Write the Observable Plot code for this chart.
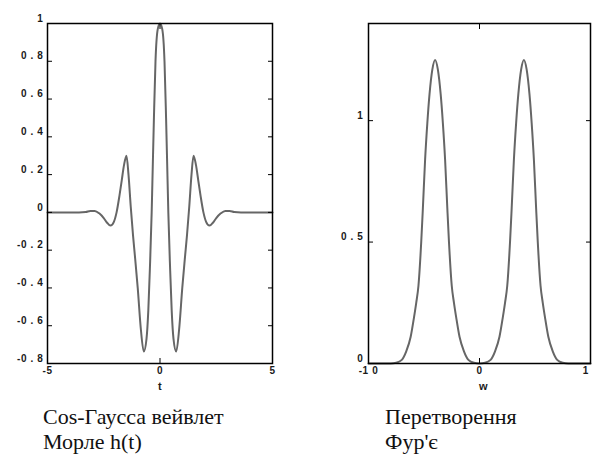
<!DOCTYPE html>
<html><head><meta charset="utf-8">
<script src="https://cdn.jsdelivr.net/npm/d3@7"></script>
<script src="https://cdn.jsdelivr.net/npm/@observablehq/plot@0.6"></script>
<style>
html,body{margin:0;padding:0;background:#fff}
body{width:592px;height:463px;overflow:hidden;position:relative}
#left{position:absolute;left:0;top:0}
#right{position:absolute;left:296px;top:0}
.cap{position:absolute;top:404px;font-size:22px;line-height:25px;color:#111;white-space:nowrap}
</style></head><body>
<div id="left"></div><div id="right"></div>
<div class="cap" id="capL" style="left:43px;font-family:'Liberation Serif',serif"></div>
<div class="cap" id="capR" style="left:385px;font-family:'Liberation Serif',serif"></div>
<script>
// Left panel: Cos-Gauss (Morlet) wavelet h(t)
const tL = [-5, -4.2, -3.6, -3.3, -3.1, -2.9, -2.7, -2.5, -2.35, -2.2, -2.05, -1.93, -1.8, -1.7, -1.6, -1.49, -1.4, -1.3, -1.2, -1.1, -0.99, -0.85, -0.72, -0.6, -0.52, -0.45, -0.37, -0.34, -0.27, -0.2, -0.1, 0,
            0.1, 0.2, 0.27, 0.34, 0.37, 0.45, 0.52, 0.6, 0.72, 0.85, 0.99, 1.1, 1.2, 1.3, 1.4, 1.49, 1.6, 1.7, 1.8, 1.93, 2.05, 2.2, 2.35, 2.5, 2.7, 2.9, 3.1, 3.3, 3.6, 4.2, 5];
const hL = [0, 0, 0, 0.002, 0.008, 0.008, -0.005, -0.03, -0.055, -0.07, -0.05, 0, 0.09, 0.17, 0.25, 0.30, 0.2, 0.03, -0.12, -0.25, -0.4, -0.62, -0.737, -0.67, -0.52, -0.3, 0, 0.15, 0.5, 0.8, 0.97, 1.0,
            0.97, 0.8, 0.5, 0.15, 0, -0.3, -0.52, -0.67, -0.737, -0.62, -0.4, -0.25, -0.12, 0.03, 0.2, 0.30, 0.25, 0.17, 0.09, 0, -0.05, -0.07, -0.055, -0.03, -0.005, 0.008, 0.008, 0.002, 0, 0, 0];
const xTicksL = [-5, 0, 5];
const xTickLabelsL = ["-5", "0", "5"];
const yTicksL = [1, 0.8, 0.6, 0.4, 0.2, 0, -0.2, -0.4, -0.6, -0.8];
const yTickLabelsL = ["1", "0 . 8", "0 . 6", "0 . 4", "0 . 2", "0", "-0 . 2", "-0 . 4", "-0 . 6", "-0 . 8"];
const xLabelL = "t";
const captionL = ["Cos-Гаусса вейвлет", "Морле h(t)"];

// Right panel: Fourier transform
const wR = [-10, -8, -7.5, -7, -6.6, -6.2, -5.9, -5.7, -5.5, -5.25, -5.1, -4.9, -4.7, -4.5, -4.25, -4, -3.75, -3.5, -3.3, -3.1, -2.9, -2.75, -2.5, -2.3, -2.1, -1.8, -1.4, -1, -0.5, 0,
            0.5, 1, 1.4, 1.8, 2.1, 2.3, 2.5, 2.75, 2.9, 3.1, 3.3, 3.5, 3.75, 4, 4.25, 4.5, 4.7, 4.9, 5.1, 5.25, 5.5, 5.7, 5.9, 6.2, 6.6, 7, 7.5, 8, 10];
const FR = [0, 0, 0.003, 0.015, 0.05, 0.11, 0.19, 0.25, 0.32, 0.5, 0.64, 0.84, 0.99, 1.11, 1.21, 1.25, 1.21, 1.11, 0.99, 0.84, 0.64, 0.5, 0.32, 0.25, 0.19, 0.11, 0.05, 0.015, 0.003, 0,
            0.003, 0.015, 0.05, 0.11, 0.19, 0.25, 0.32, 0.5, 0.64, 0.84, 0.99, 1.11, 1.21, 1.25, 1.21, 1.11, 0.99, 0.84, 0.64, 0.5, 0.32, 0.25, 0.19, 0.11, 0.05, 0.015, 0.003, 0, 0];
const xTicksR = [-10, 0, 10];
const xTickLabelsR = ["-1 0", "0", "1 0"];
const yTicksR = [0, 0.5, 1];
const yTickLabelsR = ["0", "0 . 5", "1"];
const xLabelR = "w";
const captionR = ["Перетворення", "Фур'є"];

const lineColor = "#666666";
const baseStyle = {fontFamily: "'Liberation Sans', Arial, sans-serif", fontSize: "10px", fontWeight: "bold", letterSpacing: "0.6px", overflow: "visible", background: "white", color: "#1a1a1a"};

function panel({xs, ys, xDomain, yDomain, xTicks, xTickLabels, yTicks, yTickLabels, xLabel, marginLeft, marginRight, labelPad, labelDx}) {
  const xFmt = new Map(xTicks.map((d, i) => [d, xTickLabels[i]]));
  const yFmt = new Map(yTicks.map((d, i) => [d, yTickLabels[i]]));
  const data = xs.map((x, i) => ({x, y: ys[i]}));
  return Plot.plot({
    width: 296, height: 400,
    marginLeft, marginRight, marginTop: 23, marginBottom: 37,
    style: baseStyle,
    x: {domain: xDomain},
    y: {domain: yDomain},
    marks: [
      Plot.line(data, {x: "x", y: "y", stroke: lineColor, strokeWidth: 2, curve: "monotone-x"}),
      Plot.frame({stroke: "#000", strokeWidth: 1.5}),
      Plot.axisY({ticks: yTicks, anchor: "left", tickSize: 5, dx: 5, fill: "none", label: null, stroke: "#000"}),
      Plot.axisY({ticks: yTicks, anchor: "right", tickSize: 5, dx: -5, fill: "none", label: null, stroke: "#000"}),
      Plot.axisY({ticks: yTicks, anchor: "left", tickSize: 0, tickPadding: labelPad, dy: -5, tickFormat: d => yFmt.get(d), label: null}),
      Plot.axisX({ticks: xTicks, anchor: "bottom", tickSize: 5, dy: -5, fill: "none", label: null, stroke: "#000"}),
      Plot.axisX({ticks: xTicks, anchor: "top", tickSize: 5, dy: 5, fill: "none", label: null, stroke: "#000"}),
      Plot.axisX({ticks: xTicks, anchor: "bottom", tickSize: 0, tickPadding: 3, tickFormat: d => xFmt.get(d), label: null}),
      Plot.text([xLabel], {frameAnchor: "bottom", lineAnchor: "middle", dy: 23, dx: labelDx, fontSize: 11, fontWeight: "bold", fill: "#1a1a1a"})
    ]
  });
}

document.getElementById("left").append(panel({
  xs: tL, ys: hL, xDomain: [-5, 5], yDomain: [-0.8, 1],
  xTicks: xTicksL, xTickLabels: xTickLabelsL, yTicks: yTicksL, yTickLabels: yTickLabelsL,
  xLabel: xLabelL, marginLeft: 47, marginRight: 24, labelPad: 4, labelDx: 0
}));
document.getElementById("right").append(panel({
  xs: wR, ys: FR, xDomain: [-10, 10], yDomain: [0, 1.4],
  xTicks: xTicksR, xTickLabels: xTickLabelsR, yTicks: yTicksR, yTickLabels: yTickLabelsR,
  xLabel: xLabelR, marginLeft: 72, marginRight: 2, labelPad: 5, labelDx: 4
}));
document.getElementById("capL").innerHTML = captionL.join("<br>");
document.getElementById("capR").innerHTML = captionR.join("<br>");
</script>
</body></html>
